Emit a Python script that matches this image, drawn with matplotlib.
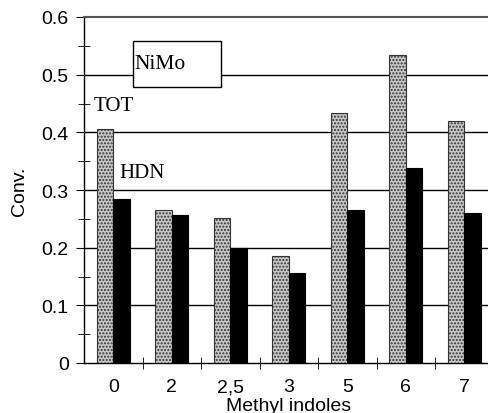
import numpy as np
import matplotlib.pyplot as plt
from matplotlib.patches import Rectangle
from matplotlib.ticker import MultipleLocator

# Data
categories = ['0', '2', '2,5', '3', '5', '6', '7']
tot = [0.406, 0.265, 0.251, 0.186, 0.433, 0.534, 0.420]
hdn = [0.284, 0.256, 0.200, 0.156, 0.265, 0.338, 0.260]

plt.rcParams['font.family'] = ['Liberation Sans', 'DejaVu Sans']

fig = plt.figure(figsize=(4.88, 4.14), dpi=100)
# axes runs a bit past the right edge, as in the original scan
ax = fig.add_axes([84 / 488, 1 - 364 / 414, 409.5 / 488, 346 / 414])

x = np.arange(len(categories))
w = 0.28
ax.bar(x - w / 2, tot, w, color='#c8c8c8', edgecolor='#333333', linewidth=0.8,
       hatch='.....', zorder=3)
ax.bar(x + w / 2, hdn, w, color='black', edgecolor='black', linewidth=0.8, zorder=3)

ax.set_xlim(-0.5, len(categories) - 0.5)
ax.set_ylim(0, 0.6)

# horizontal grid
for yv in np.arange(0.1, 0.55, 0.1):
    ax.axhline(yv, color='black', linewidth=1.0, zorder=1)

ax.spines['right'].set_visible(False)
ax.spines['top'].set_color('#555555')
ax.spines['top'].set_linewidth(1.5)
ax.spines['left'].set_linewidth(1.0)
ax.spines['bottom'].set_linewidth(1.0)

ax.yaxis.set_minor_locator(MultipleLocator(0.05))
ax.set_yticks(np.arange(0, 0.61, 0.1))
ax.set_yticklabels(['0', '0.1', '0.2', '0.3', '0.4', '0.5', '0.6'])
ax.tick_params(axis='y', which='major', direction='out', length=6, labelsize=14, pad=5)
ax.tick_params(axis='y', which='minor', direction='inout', length=8)

# category labels at centres, ticks at boundaries
ax.set_xticks(x)
ax.set_xticklabels(categories)
ax.set_xticks(np.arange(0.5, len(categories) - 0.5, 1), minor=True)
ax.tick_params(axis='x', which='major', length=0, labelsize=14, pad=11)
ax.tick_params(axis='x', which='minor', direction='inout', length=8)

ax.set_ylabel('Conv.', fontsize=14, labelpad=10)
ax.set_xlabel('Methyl indoles', fontsize=14, labelpad=1)

serif = ['Liberation Serif', 'DejaVu Serif']
ax.add_patch(Rectangle((0.34, 0.479), 1.51, 0.079, facecolor='white',
                       edgecolor='black', linewidth=1.0, zorder=4))
ax.text(0.37, 0.52, 'NiMo', family=serif, fontsize=15.5, va='center', ha='left', zorder=5)
ax.text(-0.33, 0.447, 'TOT', family=serif, fontsize=15, va='center', ha='left', zorder=5)
ax.text(0.1, 0.33, 'HDN', family=serif, fontsize=15, va='center', ha='left', zorder=5)

plt.savefig('out.png', dpi=100)
